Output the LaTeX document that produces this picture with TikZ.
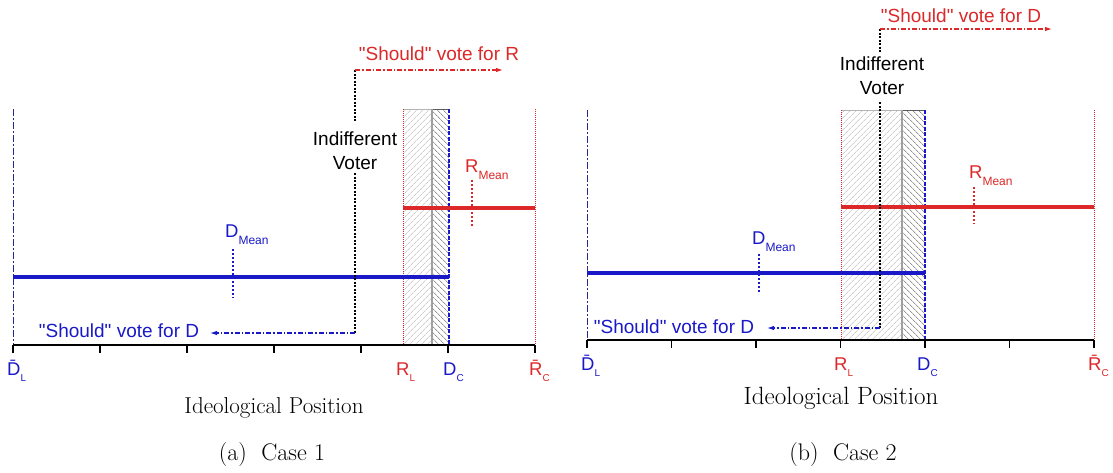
\documentclass[tikz,border=0pt]{standalone}
\usepackage{fontspec}
\newfontfamily\arial{Liberation Sans}
\usetikzlibrary{patterns.meta,arrows.meta}
\definecolor{dblue}{RGB}{25,25,200}
\definecolor{navy}{RGB}{40,40,140}
\definecolor{dred}{RGB}{220,40,40}
\definecolor{lhatch}{RGB}{180,180,180}
\definecolor{dhatch}{RGB}{90,90,90}
\newcommand\lsub[1]{\raisebox{-6pt}{\fontsize{10}{10}\selectfont #1}}
\newcommand\msub[1]{\raisebox{-7pt}{\fontsize{12}{12}\selectfont #1}}
\tikzset{
  lbl/.style={font=\arial\fontsize{19}{24}\selectfont, inner sep=0pt, align=center},
  axlbl/.style={font=\arial\fontsize{18.5}{20}\selectfont, inner sep=0pt, anchor=base west},
  serifbig/.style={font=\fontsize{23}{26}\selectfont, inner sep=0pt},
  serifbigger/.style={font=\fontsize{25}{28}\selectfont, inner sep=0pt},
  captext/.style={font=\fontsize{24}{27}\selectfont, inner sep=0pt},
  thickblue/.style={dblue, line width=3.2pt},
  thickred/.style={dred, line width=3.2pt},
  axisline/.style={black, line width=1.6pt},
  tickmark/.style={black, line width=1.6pt},
  leftbound/.style={navy, line width=1pt, dash pattern=on 7pt off 2pt on 2pt off 2pt},
  redbound/.style={dred, line width=1pt, dash pattern=on 1pt off 1pt},
  bluebound/.style={dblue, line width=1.1pt, dash pattern=on 4pt off 1.5pt},
  voterline/.style={black, line width=1.2pt, dash pattern=on 2pt off 1.5pt},
  shouldarrow/.style={line width=1.1pt, dash pattern=on 5pt off 2pt on 1.5pt off 2pt, -{Latex[length=7pt,width=4.5pt]}},
  meanline/.style={line width=1.5pt, dash pattern=on 1.5pt off 2.5pt},
  lightbox/.style={pattern={Lines[angle=45,distance=4pt,line width=0.5pt]}, pattern color=lhatch},
  darkbox/.style={pattern={Lines[angle=-45,distance=4pt,line width=0.6pt]}, pattern color=dhatch},
}
\begin{document}
\begin{tikzpicture}[x=1pt,y=-1pt]
\useasboundingbox (0,0) rectangle (1113,472);

% ================= Case 1 =================
\path[lightbox] (403,109) rectangle (432,345);
\path[darkbox] (432,109) rectangle (449,345);
\draw[lhatch, line width=0.8pt] (403,109) -- (432,109);
\draw[dhatch, line width=0.8pt] (432,109) -- (449,109);
\draw[gray!75, line width=1.6pt] (432,109) -- (432,345);

\draw[leftbound] (13,109) -- (13,345);
\draw[redbound] (403,109) -- (403,345);
\draw[bluebound] (449,109) -- (449,345);
\draw[redbound] (535,109) -- (535,345);

\draw[thickblue] (13,277) -- (449,277);
\draw[thickred] (403,208) -- (535,208);

\draw[axisline] (13,345) -- (535,345);
\foreach \i in {0,...,6} \draw[tickmark] ({13+87*\i},345) -- ({13+87*\i},353);

% means
\node[axlbl, text=dblue] (dmeanA) at (225,237) {D\msub{Mean}};
\draw[meanline, dblue] (233,249) -- (233,298);
\node[axlbl, text=dred] (rmeanA) at (465,172) {R\msub{Mean}};
\draw[meanline, dred] (472,180) -- (472,228);

% indifferent voter
\node[lbl] (voterA) at (355,151) {Indifferent\\Voter};
\coordinate (vtopA) at (355,70);
\coordinate (vbotA) at (355,333);
\coordinate (rtipA) at (503,70);
\coordinate (dtipA) at (210,333);
\draw[voterline] (vtopA) -- (355,122);
\draw[voterline] (355,173) -- (vbotA);
\draw[shouldarrow, dred] (vtopA) -- (rtipA);
\draw[shouldarrow, dblue] (vbotA) -- (dtipA);
\node[lbl, text=dred] (shouldRA) at (439,54) {"Should" vote for R};
\node[lbl, text=dblue] (shouldDA) at (119,331) {"Should" vote for D};

% axis labels
\node[axlbl, text=dblue] (dlA) at (7,375) {\=D\lsub{L}};
\node[axlbl, text=dred] (rlA) at (396,375) {R\lsub{L}};
\node[axlbl, text=dblue] (dcA) at (443,375) {D\lsub{C}};
\node[axlbl, text=dred] (rcA) at (529,375) {\=R\lsub{C}};

\node[serifbig] (ideoA) at (274,408) {Ideological Position};
\node[captext] (capA) at (272,455) {(a)\hspace{0.6em}Case 1};

% ================= Case 2 =================
\path[lightbox] (841,110) rectangle (902,340);
\path[darkbox] (902,110) rectangle (925,340);
\draw[lhatch, line width=0.8pt] (841,110) -- (902,110);
\draw[dhatch, line width=0.8pt] (902,110) -- (925,110);
\draw[gray!75, line width=1.6pt] (902,110) -- (902,340);

\draw[leftbound] (587,110) -- (587,340);
\draw[redbound] (841,110) -- (841,340);
\draw[bluebound] (925,110) -- (925,340);
\draw[redbound] (1094,110) -- (1094,340);

\draw[thickblue] (587,273) -- (925,273);
\draw[thickred] (841,207) -- (1094,207);

\draw[axisline] (587,340) -- (1094,340);
\foreach \i in {0,...,6} \draw[tickmark] ({587+84.5*\i},340) -- ({587+84.5*\i},348);

\node[axlbl, text=dblue] (dmeanB) at (752,244) {D\msub{Mean}};
\draw[meanline, dblue] (759,254) -- (759,294);
\node[axlbl, text=dred] (rmeanB) at (969,178) {R\msub{Mean}};
\draw[meanline, dred] (974,187) -- (974,224);

\node[lbl] (voterB) at (882,76) {Indifferent\\Voter};
\coordinate (vtopB) at (880,29);
\coordinate (vbotB) at (880,328);
\coordinate (rtipB) at (1052,29);
\coordinate (dtipB) at (767,328);
\draw[voterline] (vtopB) -- (880,52);
\draw[voterline] (880,102) -- (vbotB);
\draw[shouldarrow, dred] (vtopB) -- (rtipB);
\draw[shouldarrow, dblue] (vbotB) -- (dtipB);
\node[lbl, text=dred] (shouldRB) at (961,16) {"Should" vote for D};
\node[lbl, text=dblue] (shouldDB) at (674,327) {"Should" vote for D};

\node[axlbl, text=dblue] (dlB) at (581,370) {\=D\lsub{L}};
\node[axlbl, text=dred] (rlB) at (834,370) {R\lsub{L}};
\node[axlbl, text=dblue] (dcB) at (917,370) {D\lsub{C}};
\node[axlbl, text=dred] (rcB) at (1088,370) {\=R\lsub{C}};

\node[serifbigger] (ideoB) at (841,398) {Ideological Position};
\node[captext] (capB) at (843,455) {(b)\hspace{0.6em}Case 2};
\end{tikzpicture}
\end{document}
